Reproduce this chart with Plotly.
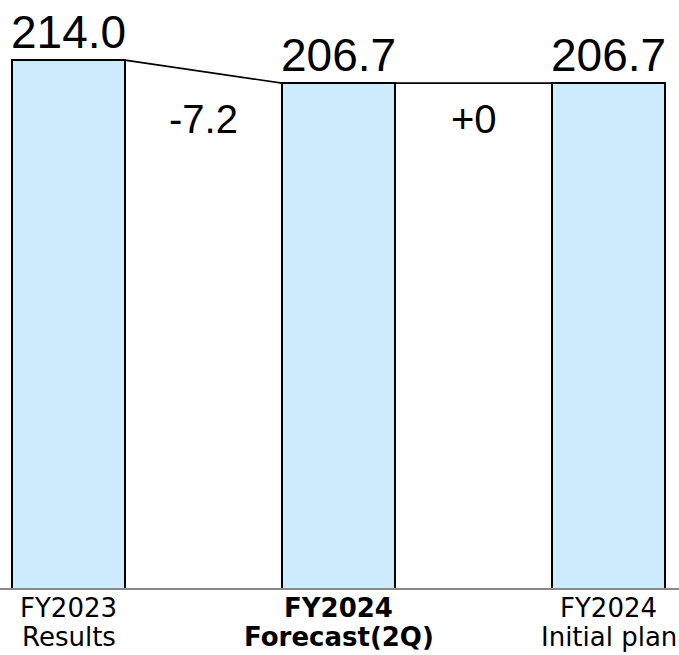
import plotly.graph_objects as go

# Net sales comparison (billion yen)
category_lines = [
    ["FY2023", "Results"],
    ["<b>FY2024</b>", "<b>Forecast(2Q)</b>"],
    ["FY2024", "Initial plan"],
]
values = [214.0, 206.7, 206.7]
value_labels = ["214.0", "206.7", "206.7"]
diff_labels = ["-7.2", "+0"]

bar_width = 0.4185
fill_color = "#CCEBFC"
x_pos = list(range(len(values)))

fig = go.Figure()

fig.add_trace(go.Bar(
    x=x_pos,
    y=values,
    width=bar_width,
    marker=dict(color=fill_color, line=dict(color="black", width=2)),
    hoverinfo="skip",
    showlegend=False,
))

# Connector lines between neighbouring bar tops
for i in range(len(values) - 1):
    fig.add_trace(go.Scatter(
        x=[x_pos[i] + bar_width / 2, x_pos[i + 1] - bar_width / 2],
        y=[values[i], values[i + 1]],
        mode="lines",
        line=dict(color="black", width=1.6),
        hoverinfo="skip",
        showlegend=False,
    ))

annotations = []
for xi, v, lab in zip(x_pos, values, value_labels):
    annotations.append(dict(
        x=xi, y=v, xref="x", yref="y", text=lab, showarrow=False,
        yanchor="bottom", yshift=0,
        font=dict(family="Liberation Sans, Arial", size=46, color="black"),
    ))

for i, lab in enumerate(diff_labels):
    annotations.append(dict(
        x=x_pos[i] + 0.5, y=0.7976, xref="x", yref="paper", text=lab,
        showarrow=False, yanchor="middle",
        font=dict(family="Liberation Sans, Arial", size=40, color="black"),
    ))

# Category labels, one annotation per line for tighter line spacing
line_pitch = 29
for xi, lines in zip(x_pos, category_lines):
    for j, line in enumerate(lines):
        annotations.append(dict(
            x=xi, y=0, xref="x", yref="paper", text=line, showarrow=False,
            yanchor="top", yshift=-3 - j * line_pitch,
            font=dict(family="DejaVu Sans, Verdana", size=26, color="black"),
        ))

fig.update_layout(
    width=679, height=655,
    margin=dict(l=0, r=0, t=0, b=67),
    paper_bgcolor="white", plot_bgcolor="white",
    bargap=0,
    annotations=annotations,
    xaxis=dict(
        range=[-0.2537, 2.2611], showticklabels=False, ticks="",
        showgrid=False, zeroline=False,
        showline=True, linecolor="#888888", linewidth=2,
    ),
    yaxis=dict(
        range=[46.4, 233.1], visible=False, showgrid=False, zeroline=False,
    ),
)

fig.write_html("out.html")
